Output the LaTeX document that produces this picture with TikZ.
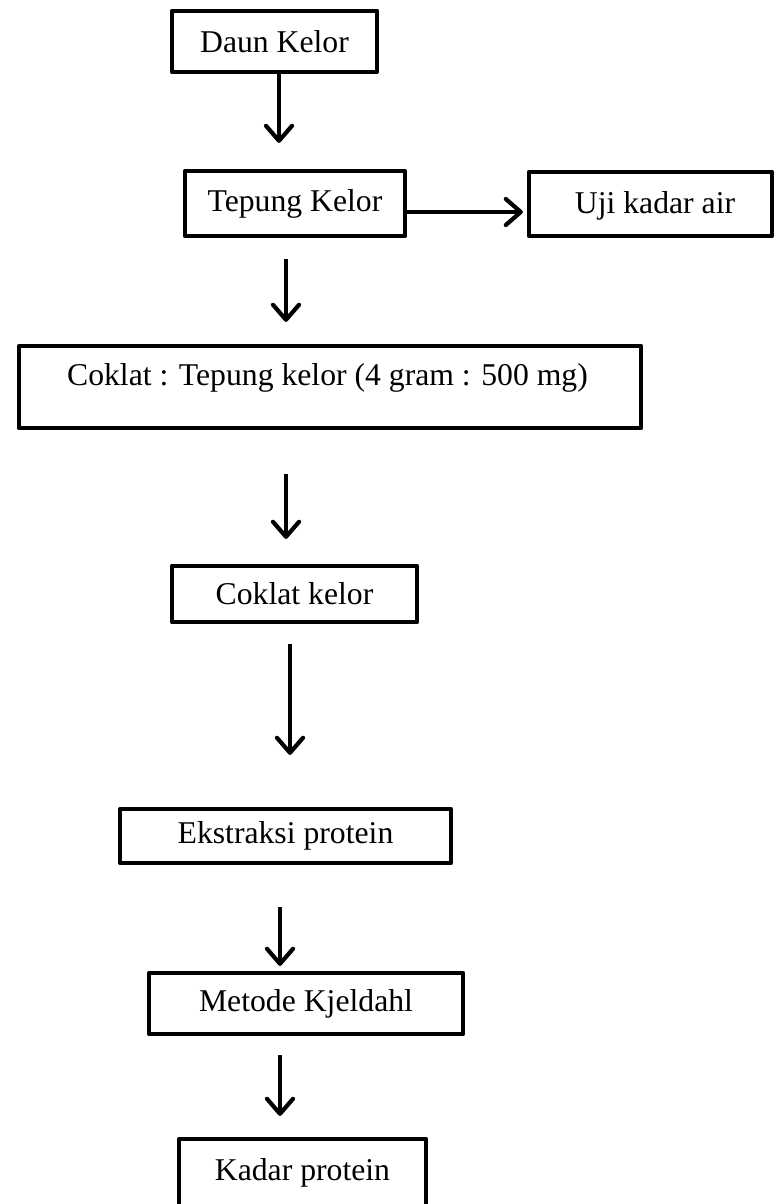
\documentclass[tikz,border=0pt]{standalone}
\usepackage{fontspec}
\setmainfont{Liberation Serif}
\usetikzlibrary{arrows.meta}
\begin{document}
\begin{tikzpicture}[x=1pt,y=-1pt,
  txt/.style={font=\fontsize{31.7}{38}\selectfont, inner sep=0pt},
  box/.style={draw=black, line width=4.2pt, line join=round, rectangle, inner sep=0pt, txt},
  arr/.style={line width=4.2pt, -{Straight Barb[length=15pt,width=26pt,line cap=round,line join=round]}},
]
\useasboundingbox (0,0) rectangle (775,1204);

\node[box, minimum width=205, minimum height=61] (daun) at (274.5,41.5) {Daun Kelor};
\node[box, minimum width=220, minimum height=65] (tepung) at (295,203.5) {Tepung Kelor};
\node[box, minimum width=243, minimum height=64] (uji) at (650.5,204) {};
\node[txt] (ujiT) at (655,205.5) {Uji kadar air};
\node[box, minimum width=622, minimum height=82] (coklat) at (330,387) {};
\node[txt, anchor=base] (coklatT) at (327.5,385) {Coklat : Tepung kelor (4 gram : 500 mg)};
\node[box, minimum width=245, minimum height=56] (ck) at (294.5,594) {Coklat kelor};
\node[box, minimum width=331, minimum height=54] (eks) at (285.5,836) {Ekstraksi protein};
\node[box, minimum width=314, minimum height=61] (met) at (306,1003.5) {Metode Kjeldahl};
\node[box, minimum width=247, minimum height=67] (kadar) at (302.5,1172.5) {Kadar protein};

\draw[arr, shorten >=26pt] ([xshift=4.5pt]daun.south) -- ([xshift=4.5pt]daun.south |- tepung.north);
\draw[arr, shorten >=4pt] ([yshift=-8.5pt]tepung.east) -- ([yshift=-8.5pt]tepung.east -| uji.west);
\draw[arr, shorten <=21pt, shorten >=22pt] ([xshift=-9pt]tepung.south) -- ([xshift=-9pt]tepung.south |- coklat.north);
\draw[arr, shorten <=44pt, shorten >=25pt] ([xshift=-44pt]coklat.south) -- ([xshift=-44pt]coklat.south |- ck.north);
\draw[arr, shorten <=20pt, shorten >=52pt] ([xshift=-4.5pt]ck.south) -- ([xshift=-4.5pt]ck.south |- eks.north);
\draw[arr, shorten <=42pt, shorten >=5pt] ([xshift=-5.5pt]eks.south) -- ([xshift=-5.5pt]eks.south |- met.north);
\draw[arr, shorten <=19pt, shorten >=21pt] ([xshift=-26pt]met.south) -- ([xshift=-26pt]met.south |- kadar.north);
\end{tikzpicture}
\end{document}
